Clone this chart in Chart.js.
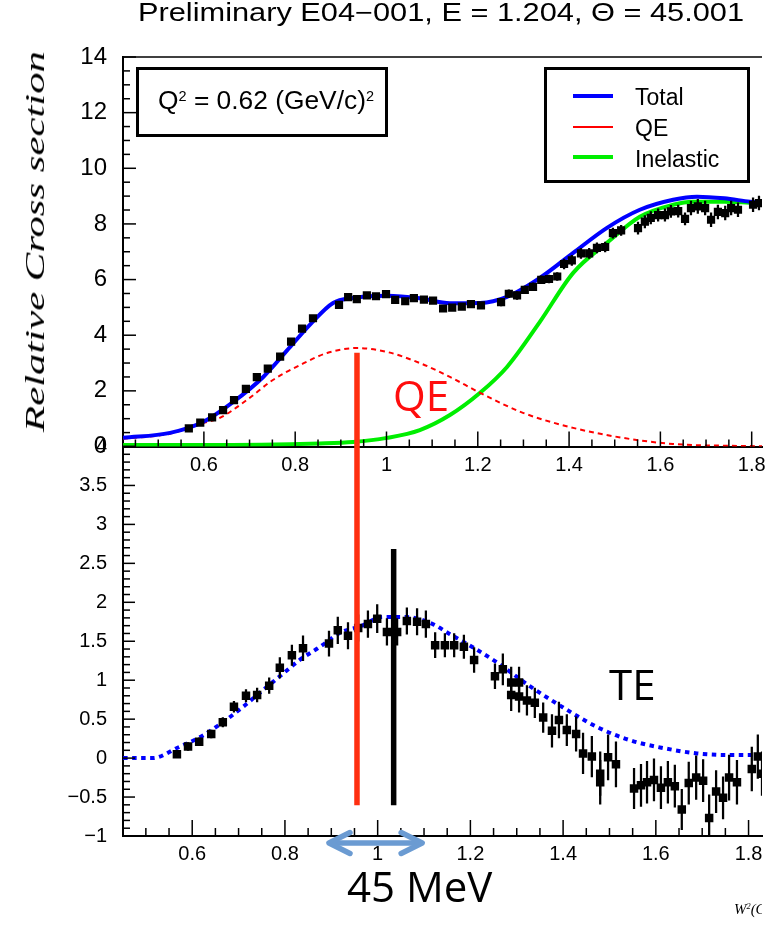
<!DOCTYPE html>
<html><head><meta charset="utf-8">
<script src="https://cdn.jsdelivr.net/npm/chart.js@4.4.1/dist/chart.umd.min.js"></script>
<style>
html,body{margin:0;padding:0;background:#fff;}
#wrap{position:relative;width:778px;height:926px;overflow:hidden;background:#fff;}
canvas{position:absolute;left:0;top:0;}
.t{position:absolute;white-space:nowrap;line-height:1;color:#000;}
sup{font-size:0.55em;vertical-align:0.55em;line-height:0;}
</style></head><body>
<div id="wrap">
<canvas id="c" width="778" height="926"></canvas>
<div id="title" class="t" style="font-family:'Liberation Sans';font-size:25px;left:138px;top:0px;transform-origin:0 0;">Preliminary E04−001, E = 1.204, Θ = 45.001</div>
<div id="ytitle" class="t" style="font-family:'Liberation Serif';font-style:italic;font-size:28px;left:20.5px;top:432px;transform-origin:0 0;">Relative Cross section</div>
<div style="position:absolute;left:136px;top:67px;width:252px;height:70px;border:3px solid #000;box-sizing:border-box;"></div>
<div id="qtext" class="t" style="font-family:'Liberation Sans';font-size:26px;left:158px;top:87px;transform-origin:0 0;">Q<sup>2</sup> = 0.62 (GeV/c)<sup>2</sup></div>
<div id="legend" style="position:absolute;left:544px;top:67px;width:206px;height:116px;border:3px solid #000;box-sizing:border-box;background:#fff;"></div>
<div class="t" style="font-family:'Open Sans';font-size:42px;color:#ff0d0d;left:393px;top:373.7px;">QE</div>
<div class="t" style="font-family:'Open Sans';font-size:42px;left:609px;top:662.7px;">TE</div>
<div class="t" style="font-family:'Open Sans';font-size:42px;left:347px;top:864.7px;">45 MeV</div>
<div style="position:absolute;left:0;top:0;width:762px;height:926px;overflow:hidden;pointer-events:none;">
  <div class="t" style="font-family:'Liberation Serif';font-style:italic;font-size:15px;left:734px;top:902.4px;">W<sup>2</sup>(GeV<sup>2</sup>)</div>
</div>
</div>
<script>
// ---------------- tick labels ----------------
const topXTickValues = [0.6, 0.8, 1, 1.2, 1.4, 1.6, 1.8];
const topXTickLabels = ['0.6', '0.8', '1', '1.2', '1.4', '1.6', '1.8'];
const topYTickValues = [0, 2, 4, 6, 8, 10, 12, 14];
const topYTickLabels = ['0', '2', '4', '6', '8', '10', '12', '14'];
const botXTickValues = [0.6, 0.8, 1, 1.2, 1.4, 1.6, 1.8];
const botXTickLabels = ['0.6', '0.8', '1', '1.2', '1.4', '1.6', '1.8'];
const botYTickValues = [-1, -0.5, 0, 0.5, 1, 1.5, 2, 2.5, 3, 3.5, 4];
const botYTickLabels = ['−1', '−0.5', '0', '0.5', '1', '1.5', '2', '2.5', '3', '3.5', '4'];

// ---------------- top panel: data points ----------------
const topDataX = [0.567,0.592,0.618,0.642,0.666,0.692,0.716,0.740,0.767,0.791,0.815,0.839,
  0.896,0.916,0.935,0.957,0.977,0.999,1.019,1.041,1.060,1.082,1.102,1.124,
  1.144,1.165,1.185,1.207,
  1.251,1.268,1.286,1.303,1.321,1.339,1.356,1.374,
  1.389,1.406,1.426,1.444,1.461,1.479,1.496,1.514,
  1.551,1.566,1.579,1.595,1.610,1.623,1.639,1.654,
  1.667,1.682,1.698,1.711,1.726,1.742,1.755,1.770,
  1.803,1.816];
const topDataY = [0.65,0.86,1.05,1.31,1.67,2.07,2.49,2.80,3.23,3.77,4.24,4.61,
  5.09,5.37,5.30,5.43,5.40,5.48,5.27,5.22,5.33,5.28,5.24,4.96,
  4.99,5.03,5.12,5.07,
  5.19,5.49,5.43,5.63,5.74,5.99,6.02,6.11,
  6.56,6.69,6.94,6.94,7.14,7.17,7.67,7.77,
  7.85,8.08,8.22,8.32,8.32,8.45,8.46,8.18,
  8.57,8.63,8.57,8.15,8.43,8.39,8.57,8.51,
  8.69,8.75];
const topDataErr = [0.06,0.06,0.06,0.06,0.06,0.06,0.06,0.06,0.06,0.06,0.06,0.06,
  0.08,0.08,0.08,0.08,0.08,0.08,0.08,0.08,0.08,0.08,0.08,0.08,
  0.10,0.10,0.10,0.10,
  0.14,0.14,0.14,0.14,0.14,0.14,0.14,0.14,
  0.18,0.18,0.18,0.18,0.18,0.18,0.18,0.18,
  0.22,0.22,0.22,0.22,0.22,0.22,0.22,0.22,
  0.25,0.25,0.25,0.25,0.25,0.25,0.25,0.25,
  0.25,0.25];

// ---------------- top panel: model curves ----------------
const totalX = [0.423,0.526,0.598,0.664,0.730,0.789,0.832,0.883,0.927,1.001,1.073,1.139,1.205,1.264,1.336,1.409,1.483,1.555,1.628,1.680,1.740,1.796,1.823];
const totalY = [0.31,0.49,0.88,1.60,2.50,3.58,4.37,5.16,5.34,5.42,5.33,5.15,5.16,5.38,6.06,6.96,7.86,8.51,8.87,8.98,8.92,8.80,8.76];
const qeX = [0.423,0.526,0.598,0.635,0.694,0.751,0.811,0.870,0.935,1.001,1.073,1.139,1.205,1.299,1.409,1.518,1.628,1.774,1.823];
const qeY = [0.28,0.46,0.84,1.03,1.67,2.39,2.93,3.36,3.54,3.40,3.00,2.50,1.93,1.21,0.67,0.31,0.09,0.02,0.01];
const inelX = [0.423,0.600,0.854,0.927,1.001,1.073,1.139,1.205,1.264,1.336,1.409,1.483,1.555,1.628,1.671,1.740,1.796,1.823];
const inelY = [0.05,0.05,0.11,0.16,0.31,0.59,1.13,1.93,2.86,4.48,6.24,7.32,8.26,8.69,8.80,8.80,8.76,8.74];

// ---------------- bottom panel: data points ----------------
const botDataX = [0.567,0.591,0.615,0.641,0.666,0.690,0.716,0.740,0.766,0.789,0.815,0.839,
  0.895,0.914,0.936,0.958,0.979,0.999,1.020,1.042,1.063,1.085,1.104,1.124,
  1.145,1.165,1.186,1.208,
  1.253,1.270,1.288,1.288,1.305,1.305,1.322,1.339,
  1.357,1.376,1.391,1.408,1.428,1.443,1.462,1.480,
  1.480,1.497,1.514,1.553,1.568,1.581,1.596,1.611,
  1.626,1.641,1.656,1.671,1.687,1.702,1.715,1.730,
  1.745,1.758,1.775,1.807,1.820,1.829];
const botDataY = [0.05,0.15,0.21,0.31,0.46,0.66,0.80,0.81,0.93,1.16,1.32,1.41,
  1.47,1.64,1.57,1.67,1.72,1.79,1.62,1.62,1.76,1.75,1.72,1.45,
  1.45,1.45,1.43,1.26,
  1.05,1.14,0.97,0.81,0.97,0.79,0.74,0.71,
  0.52,0.35,0.49,0.36,0.31,0.06,0.02,-0.20,
  -0.31,0.01,-0.08,-0.39,-0.35,-0.31,-0.28,-0.38,
  -0.31,-0.36,-0.66,-0.32,-0.25,-0.29,-0.77,-0.43,
  -0.51,-0.25,-0.31,-0.14,0.02,-0.20];
const botDataErr = [0.04,0.05,0.05,0.05,0.06,0.07,0.08,0.09,0.10,0.13,0.13,0.16,
  0.16,0.17,0.17,0.17,0.17,0.18,0.17,0.17,0.17,0.17,0.17,0.16,
  0.15,0.15,0.15,0.16,
  0.16,0.20,0.20,0.20,0.20,0.20,0.19,0.19,
  0.19,0.21,0.23,0.20,0.22,0.26,0.26,0.28,
  0.28,0.29,0.29,0.26,0.27,0.27,0.27,0.27,
  0.27,0.27,0.26,0.27,0.28,0.27,0.30,0.27,
  0.27,0.29,0.28,0.28,0.28,0.28];

// ---------------- bottom panel: TE curve ----------------
const teX = [0.451,0.515,0.567,0.617,0.666,0.710,0.746,0.789,0.832,0.876,0.919,0.962,1.011,1.063,1.119,1.156,1.206,1.257,1.329,1.400,1.473,1.544,1.615,1.689,1.760,1.829];
const teY = [0.00,0.00,0.13,0.27,0.46,0.66,0.84,1.05,1.26,1.43,1.61,1.69,1.81,1.81,1.72,1.59,1.42,1.23,0.92,0.65,0.40,0.23,0.13,0.06,0.04,0.04];

// ---------------- marker lines (axis units) ----------------
const qeMarkX = 0.9554, qeMarkTop = 3.37;      // red line, top on upper panel scale
const teMarkX = 1.0345, teMarkTop = 2.684;     // black line, lower panel scale
const markBottom = -0.606;
const arrowX = [0.895, 1.096];

// ---------------- helpers ----------------
const pts = (xs, ys) => xs.map((x, i) => ({x, y: ys[i]}));
const errs = (xs, ys, es) => xs.map((x, i) => ({x, y: [ys[i] - es[i], ys[i] + es[i]]}));
const lbl = (vals, labels) => (v) => { const i = vals.findIndex(t => Math.abs(t - v) < 1e-9); return i >= 0 ? labels[i] : ''; };
const setTicks = (vals) => (s) => { s.ticks = vals.map(v => ({value: v})); };

function axisOpts(extra) {
  return Object.assign({
    type: 'linear', offset: false,
    grid: {display: false, drawTicks: false, offset: false},
    border: {display: true, color: '#000', width: 2},
  }, extra);
}

const rootPlugin = {
  id: 'rootDeco',
  afterDatasetsDraw(chart) {
    const {ctx, chartArea: ca, scales: s} = chart;
    const line = (x1, y1, x2, y2) => { ctx.beginPath(); ctx.moveTo(x1, y1); ctx.lineTo(x2, y2); ctx.stroke(); };
    const isMajor = (v, major) => Math.abs(v / major - Math.round(v / major)) < 1e-6;
    function xTicks(sc, yPx, minor, major, lMaj, lMin) {
      for (let k = Math.ceil(sc.min / minor - 1e-9); k <= Math.floor(sc.max / minor + 1e-9); k++) {
        const v = k * minor, x = sc.getPixelForValue(v);
        line(x, yPx, x, yPx - (isMajor(v, major) ? lMaj : lMin));
      }
    }
    function yTicks(sc, xPx, minor, major, lMaj, lMin) {
      for (let k = Math.ceil(sc.min / minor - 1e-9); k <= Math.floor(sc.max / minor + 1e-9); k++) {
        const v = k * minor, y = sc.getPixelForValue(v);
        line(xPx, y, xPx + (isMajor(v, major) ? lMaj : lMin), y);
      }
    }
    ctx.save();
    ctx.strokeStyle = '#000';
    ctx.lineWidth = 1.5;
    const yFrame = s.yTop.getPixelForValue(s.yTop.max);
    line(ca.left, yFrame, ca.right, yFrame);
    xTicks(s.xTop, s.yTop.getPixelForValue(0), 0.05, 0.2, 15, 7);
    xTicks(s.xBot, s.yBot.getPixelForValue(-1), 0.05, 0.2, 16, 8);
    yTicks(s.yTop, ca.left, 0.5, 2, 13, 7);
    yTicks(s.yBot, ca.left, 0.1, 0.5, 12, 7);

    // vertical markers
    ctx.lineWidth = 5.5;
    ctx.strokeStyle = '#ff2f10';
    let vx = s.xBot.getPixelForValue(qeMarkX);
    line(vx, s.yTop.getPixelForValue(qeMarkTop), vx, s.yBot.getPixelForValue(markBottom));
    ctx.strokeStyle = '#000';
    vx = s.xBot.getPixelForValue(teMarkX);
    line(vx, s.yBot.getPixelForValue(teMarkTop), vx, s.yBot.getPixelForValue(markBottom));

    // double arrow
    const a1 = s.xBot.getPixelForValue(arrowX[0]), a2 = s.xBot.getPixelForValue(arrowX[1]);
    const ay = ca.bottom + 7;
    ctx.strokeStyle = '#6b9bd2';
    ctx.lineWidth = 5.5; ctx.lineCap = 'round'; ctx.lineJoin = 'round';
    line(a1 + 2, ay, a2 - 2, ay);
    ctx.beginPath(); ctx.moveTo(a1 + 21, ay - 10.5); ctx.lineTo(a1, ay); ctx.lineTo(a1 + 21, ay + 10.5); ctx.stroke();
    ctx.beginPath(); ctx.moveTo(a2 - 21, ay - 10.5); ctx.lineTo(a2, ay); ctx.lineTo(a2 - 21, ay + 10.5); ctx.stroke();
    ctx.restore();
  }
};

const curve = (label, xs, ys, color, width, dash, xId, yId, order) => ({
  label, type: 'line', data: pts(xs, ys), borderColor: color, backgroundColor: color,
  borderWidth: width, borderDash: dash, pointRadius: 0, fill: false,
  cubicInterpolationMode: 'monotone', xAxisID: xId, yAxisID: yId, order
});

const chart = new Chart(document.getElementById('c'), {
  type: 'scatter',
  data: {
    datasets: [
      {label: 'Data (top)', type: 'scatter', data: pts(topDataX, topDataY), xAxisID: 'xTop', yAxisID: 'yTop',
        pointStyle: 'rect', pointRadius: 5.8, pointBackgroundColor: '#000', pointBorderWidth: 0, order: 0},
      {label: 'Data (bottom)', type: 'scatter', data: pts(botDataX, botDataY), xAxisID: 'xBot', yAxisID: 'yBot',
        pointStyle: 'rect', pointRadius: 6.0, pointBackgroundColor: '#000', pointBorderWidth: 0, order: 0},
      {label: 'Err (top)', type: 'bar', data: errs(topDataX, topDataY, topDataErr), xAxisID: 'xTop', yAxisID: 'yTop',
        backgroundColor: '#000', borderWidth: 0, barThickness: 1.6, grouped: false, order: 1},
      {label: 'Err (bottom)', type: 'bar', data: errs(botDataX, botDataY, botDataErr), xAxisID: 'xBot', yAxisID: 'yBot',
        backgroundColor: '#000', borderWidth: 0, barThickness: 1.6, grouped: false, order: 1},
      curve('Total', totalX, totalY, '#0000ff', 4, [], 'xTop', 'yTop', 2),
      curve('QE', qeX, qeY, '#ff0000', 2, [5, 4], 'xTop', 'yTop', 3),
      curve('Inelastic', inelX, inelY, '#00ee00', 4, [], 'xTop', 'yTop', 4),
      curve('TE', teX, teY, '#0000ff', 4, [4.5, 4.5], 'xBot', 'yBot', 2),
    ]
  },
  options: {
    responsive: false, animation: false, devicePixelRatio: 1, events: [],
    layout: {padding: {left: 60, right: 16, top: 57, bottom: 50}},
    plugins: {legend: {display: false}, tooltip: {enabled: false}, title: {display: false}},
    scales: {
      yBot: axisOpts({axis: 'y', position: 'left', stack: 'panels', stackWeight: 1, min: -1, max: 4,
        afterBuildTicks: setTicks(botYTickValues), afterFit: (s) => { s.width = 63; },
        ticks: {callback: lbl(botYTickValues, botYTickLabels), font: {family: 'Liberation Sans', size: 20}, color: '#000', padding: 16, autoSkip: false}}),
      yTop: axisOpts({axis: 'y', position: 'left', stack: 'panels', stackWeight: 1, min: 0, max: 14,
        afterBuildTicks: setTicks(topYTickValues), afterFit: (s) => { s.width = 63; },
        ticks: {callback: lbl(topYTickValues, topYTickLabels), font: {family: 'Liberation Sans', size: 24}, color: '#000', padding: 16, autoSkip: false}}),
      xBot: axisOpts({axis: 'x', position: 'bottom', min: 0.4507, max: 1.829,
        afterBuildTicks: setTicks(botXTickValues), afterFit: (s) => { s.height = 40; },
        ticks: {callback: lbl(botXTickValues, botXTickLabels), font: {family: 'Liberation Sans', size: 20}, color: '#000', padding: 6.5, autoSkip: false, maxRotation: 0}}),
      xTop: axisOpts({axis: 'x', position: {yTop: 0}, min: 0.4228, max: 1.8226,
        afterBuildTicks: setTicks(topXTickValues),
        ticks: {callback: lbl(topXTickValues, topXTickLabels), font: {family: 'Liberation Sans', size: 20}, color: '#000', padding: 6.5, autoSkip: false, maxRotation: 0}}),
    }
  },
  plugins: [rootPlugin]
});

// ---------------- legend (built from the chart's datasets) ----------------
(function buildLegend() {
  const wrap = document.getElementById('wrap');
  const rows = [{name: 'Total', y: 96, base: 105}, {name: 'QE', y: 127, base: 136.5}, {name: 'Inelastic', y: 157, base: 167.5}];
  rows.forEach(r => {
    const ds = chart.data.datasets.find(d => d.label === r.name);
    const w = ds.borderWidth;
    const ln = document.createElement('div');
    ln.style.cssText = `position:absolute;left:573px;width:40px;top:${r.y - w / 2}px;height:${w}px;background:${ds.borderColor};`;
    wrap.appendChild(ln);
    const tx = document.createElement('div');
    tx.className = 't';
    tx.textContent = ds.label;
    tx.style.cssText = `font-family:'Liberation Sans';font-size:23px;left:635px;top:${r.base - 0.8465 * 23}px;`;
    wrap.appendChild(tx);
  });
})();

// ---------------- fit stretched text widths ----------------
function fitWidth(id, target, pre) {
  const el = document.getElementById(id);
  const w = el.getBoundingClientRect().width;
  el.style.transform = (pre || '') + ` scaleX(${target / w})`;
}
fitWidth('title', 606);
fitWidth('qtext', 216);
fitWidth('ytitle', 381, 'rotate(-90deg)');
</script>
</body></html>
